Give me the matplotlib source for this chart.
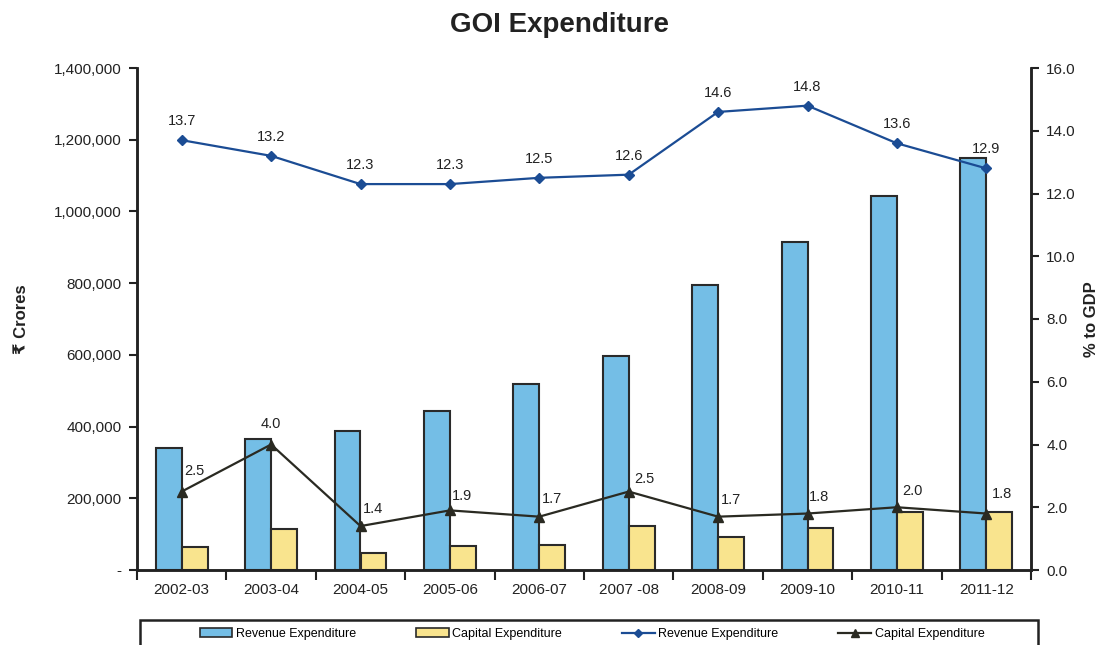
import matplotlib
matplotlib.use("Agg")
import matplotlib.pyplot as plt
from matplotlib.ticker import FuncFormatter, FixedLocator
from matplotlib.patches import Rectangle, Patch
from matplotlib.lines import Line2D

plt.rcParams['font.family'] = ['Liberation Sans', 'DejaVu Sans']

years = ["2002-03", "2003-04", "2004-05", "2005-06", "2006-07",
         "2007 -08", "2008-09", "2009-10", "2010-11", "2011-12"]
revenue_exp = [340000, 365000, 388000, 443000, 518000, 598000, 795000, 915000, 1044000, 1150000]
capital_exp = [65000, 113000, 47000, 67000, 70000, 123000, 92000, 117000, 162000, 162000]
revenue_gdp = [13.7, 13.2, 12.3, 12.3, 12.5, 12.6, 14.6, 14.8, 13.6, 12.8]
revenue_gdp_labels = ["13.7", "13.2", "12.3", "12.3", "12.5", "12.6", "14.6", "14.8", "13.6", "12.9"]
capital_gdp = [2.5, 4.0, 1.4, 1.9, 1.7, 2.5, 1.7, 1.8, 2.0, 1.8]
left_ticks = [0, 200000, 400000, 600000, 800000, 1000000, 1200000, 1400000]
right_ticks = [0, 2, 4, 6, 8, 10, 12, 14, 16]

W, H = 1102, 645
fig = plt.figure(figsize=(W / 100, H / 100), dpi=100)
ax = fig.add_axes([137 / W, 1 - 570 / H, (1031 - 137) / W, (570 - 68) / H])
ax2 = ax.twinx()

rev_color = "#74BEE6"
cap_color = "#F9E48E"
edge = "#2a2a2a"
line_rev = "#1B4C94"
line_cap = "#2A2A22"

x = list(range(len(years)))
bw = 0.29
ax.bar([i - bw / 2 for i in x], revenue_exp, width=bw, color=rev_color,
       edgecolor=edge, linewidth=1.5, zorder=2)
ax.bar([i + bw / 2 for i in x], capital_exp, width=bw, color=cap_color,
       edgecolor=edge, linewidth=1.5, zorder=2)

ax2.plot(x, revenue_gdp, color=line_rev, lw=1.6, marker="D", ms=5.5, zorder=4)
ax2.plot(x, capital_gdp, color=line_cap, lw=1.6, marker="^", ms=7.5, zorder=4)

for i, (v, t) in enumerate(zip(revenue_gdp, revenue_gdp_labels)):
    ax2.annotate(t, (i, v), xytext=(0, 19), textcoords="offset pixels",
                 ha="center", va="center", fontsize=10.5, color="#222222")
cap_offsets = [(13, 21), (0, 21), (13, 17), (12, 14), (13, 18),
               (16, 13), (13, 17), (12, 17), (16, 16), (16, 20)]
for i, v in enumerate(capital_gdp):
    dx, dy = cap_offsets[i]
    ax2.annotate(f"{v:.1f}", (i, v), xytext=(dx, dy), textcoords="offset pixels",
                 ha="center", va="center", fontsize=10.5, color="#222222")

ax.set_xlim(-0.5, len(years) - 0.5)
ax.set_ylim(0, 1400000)
ax2.set_ylim(0, 16)

ax.set_yticks(left_ticks)
ax.yaxis.set_major_formatter(FuncFormatter(lambda v, p: "-" if v == 0 else f"{v:,.0f}"))
ax2.set_yticks(right_ticks)
ax2.yaxis.set_major_formatter(FuncFormatter(lambda v, p: f"{v:.1f}"))

ax.set_xticks(x)
ax.set_xticklabels(years)
ax.xaxis.set_minor_locator(FixedLocator([i - 0.5 for i in range(len(years) + 1)]))
ax.tick_params(axis="x", which="major", length=0, labelsize=11, pad=9, colors="#222222")
ax.tick_params(axis="x", which="minor", length=7, width=1.5, direction="out", color="#222222")
ax.tick_params(axis="y", length=6, width=1.5, direction="out", labelsize=11, colors="#222222", pad=5)
ax2.tick_params(axis="y", length=6, width=1.5, direction="out", labelsize=11, colors="#222222", pad=5)

for a in (ax, ax2):
    a.spines["top"].set_visible(False)
    for s in ("left", "right", "bottom"):
        a.spines[s].set_linewidth(1.8)
        a.spines[s].set_color("#222222")

ax.set_ylabel("₹ Crores", fontsize=12, fontweight="bold", labelpad=18, color="#222222")
ax2.set_ylabel("% to GDP", fontsize=12, fontweight="bold", labelpad=6, color="#222222")

fig.text(560 / W, 1 - 25 / H, "GOI Expenditure", ha="center", va="center",
         fontsize=20, fontweight="bold", color="#222222")

# legend frame
fig.add_artist(Rectangle((140 / W, -0.05), (1038 - 140) / W, 0.05 + (645 - 620) / H,
                         transform=fig.transFigure, fill=False, edgecolor="#222222", lw=1.8))
handles = [
    Patch(facecolor=rev_color, edgecolor=edge, linewidth=1.2),
    Patch(facecolor=cap_color, edgecolor=edge, linewidth=1.2),
    Line2D([], [], color=line_rev, lw=1.6, marker="D", ms=4.5),
    Line2D([], [], color=line_cap, lw=1.6, marker="^", ms=6),
]
labels = ["Revenue Expenditure", "Capital Expenditure", "Revenue Expenditure", "Capital Expenditure"]
fig.legend(handles, labels, loc="center", bbox_to_anchor=(592 / W, 1 - 634 / H), ncol=4,
           frameon=False, fontsize=9, columnspacing=4.8, handlelength=2.6, handletextpad=0.3)

fig.savefig("out.png", dpi=100)
